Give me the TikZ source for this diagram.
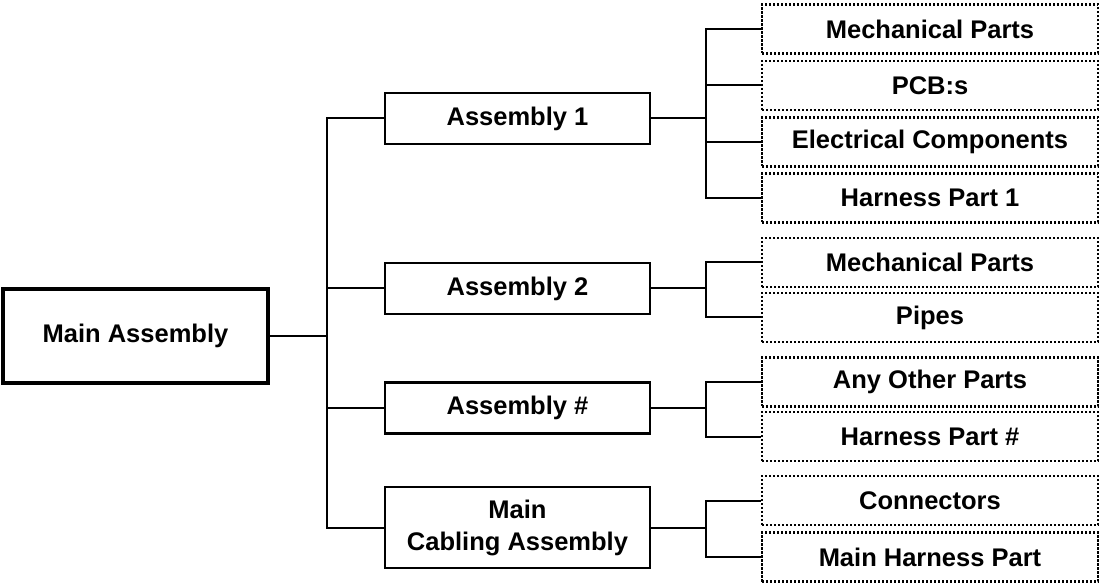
\documentclass[tikz,border=0pt]{standalone}
\usepackage{fontspec}
\setmainfont{Liberation Sans}
\begin{document}
\begin{tikzpicture}[x=1pt,y=-1pt,
  txt/.style={font=\fontsize{25.5}{32}\selectfont\bfseries, inner sep=0pt, align=center},
  mainbox/.style={txt, draw, line width=3.2pt, minimum width=265pt, minimum height=94pt},
  asmbox/.style={txt, draw, line width=2.4pt, minimum width=265pt, minimum height=51pt},
  leafbox/.style={txt, draw, line width=2.6pt, dash pattern=on 2.2pt off 1.8pt, minimum width=336pt, minimum height=49pt},
  conn/.style={line width=2pt}]
\useasboundingbox (0,0) rectangle (1101,585);
\node[mainbox] (main) at (135.5,336) {Main Assembly};
\node[asmbox] (a1) at (517.5,118.5) {Assembly 1};
\node[asmbox] (a2) at (517.5,288.5) {Assembly 2};
\node[asmbox] (a3) at (517.5,408) {Assembly \#};
\node[asmbox, minimum height=81pt] (a4) at (517.5,527.5) {Main\\Cabling Assembly};
\node[leafbox] (l11) at (930,29) {Mechanical Parts};
\node[leafbox] (l12) at (930,85.5) {PCB:s};
\node[leafbox] (l13) at (930,142) {Electrical Components};
\node[leafbox] (l14) at (930,198) {Harness Part 1};
\node[leafbox] (l21) at (930,262.5) {Mechanical Parts};
\node[leafbox] (l22) at (930,317.5) {Pipes};
\node[leafbox] (l31) at (930,382) {Any Other Parts};
\node[leafbox] (l32) at (930,436.5) {Harness Part \#};
\node[leafbox] (l41) at (930,500.5) {Connectors};
\node[leafbox] (l42) at (930,557) {Main Harness Part};
\coordinate (tr) at (327,336);
\coordinate (bus) at (706,0);
\draw[conn, line width=2.4pt] (main.east) -- (main.east -| tr);
\draw[conn] (a1.west) -- (a1.west -| tr) |- (a4.west);
\draw[conn] (a2.west) -- (a2.west -| tr);
\draw[conn] (a3.west) -- (a3.west -| tr);
\draw[conn] (a1.east) -- (a1.east -| bus);
\draw[conn] (a2.east) -- (a2.east -| bus);
\draw[conn] (a3.east) -- (a3.east -| bus);
\draw[conn] (a4.east) -- (a4.east -| bus);
\draw[conn] (l11.west) -- (l11.west -| bus) |- (l14.west);
\draw[conn] (l12.west) -- (l12.west -| bus);
\draw[conn] (l13.west) -- (l13.west -| bus);
\draw[conn] (l21.west) -- (l21.west -| bus) |- (l22.west);
\draw[conn] (l31.west) -- (l31.west -| bus) |- (l32.west);
\draw[conn] (l41.west) -- (l41.west -| bus) |- (l42.west);
\end{tikzpicture}
\end{document}
